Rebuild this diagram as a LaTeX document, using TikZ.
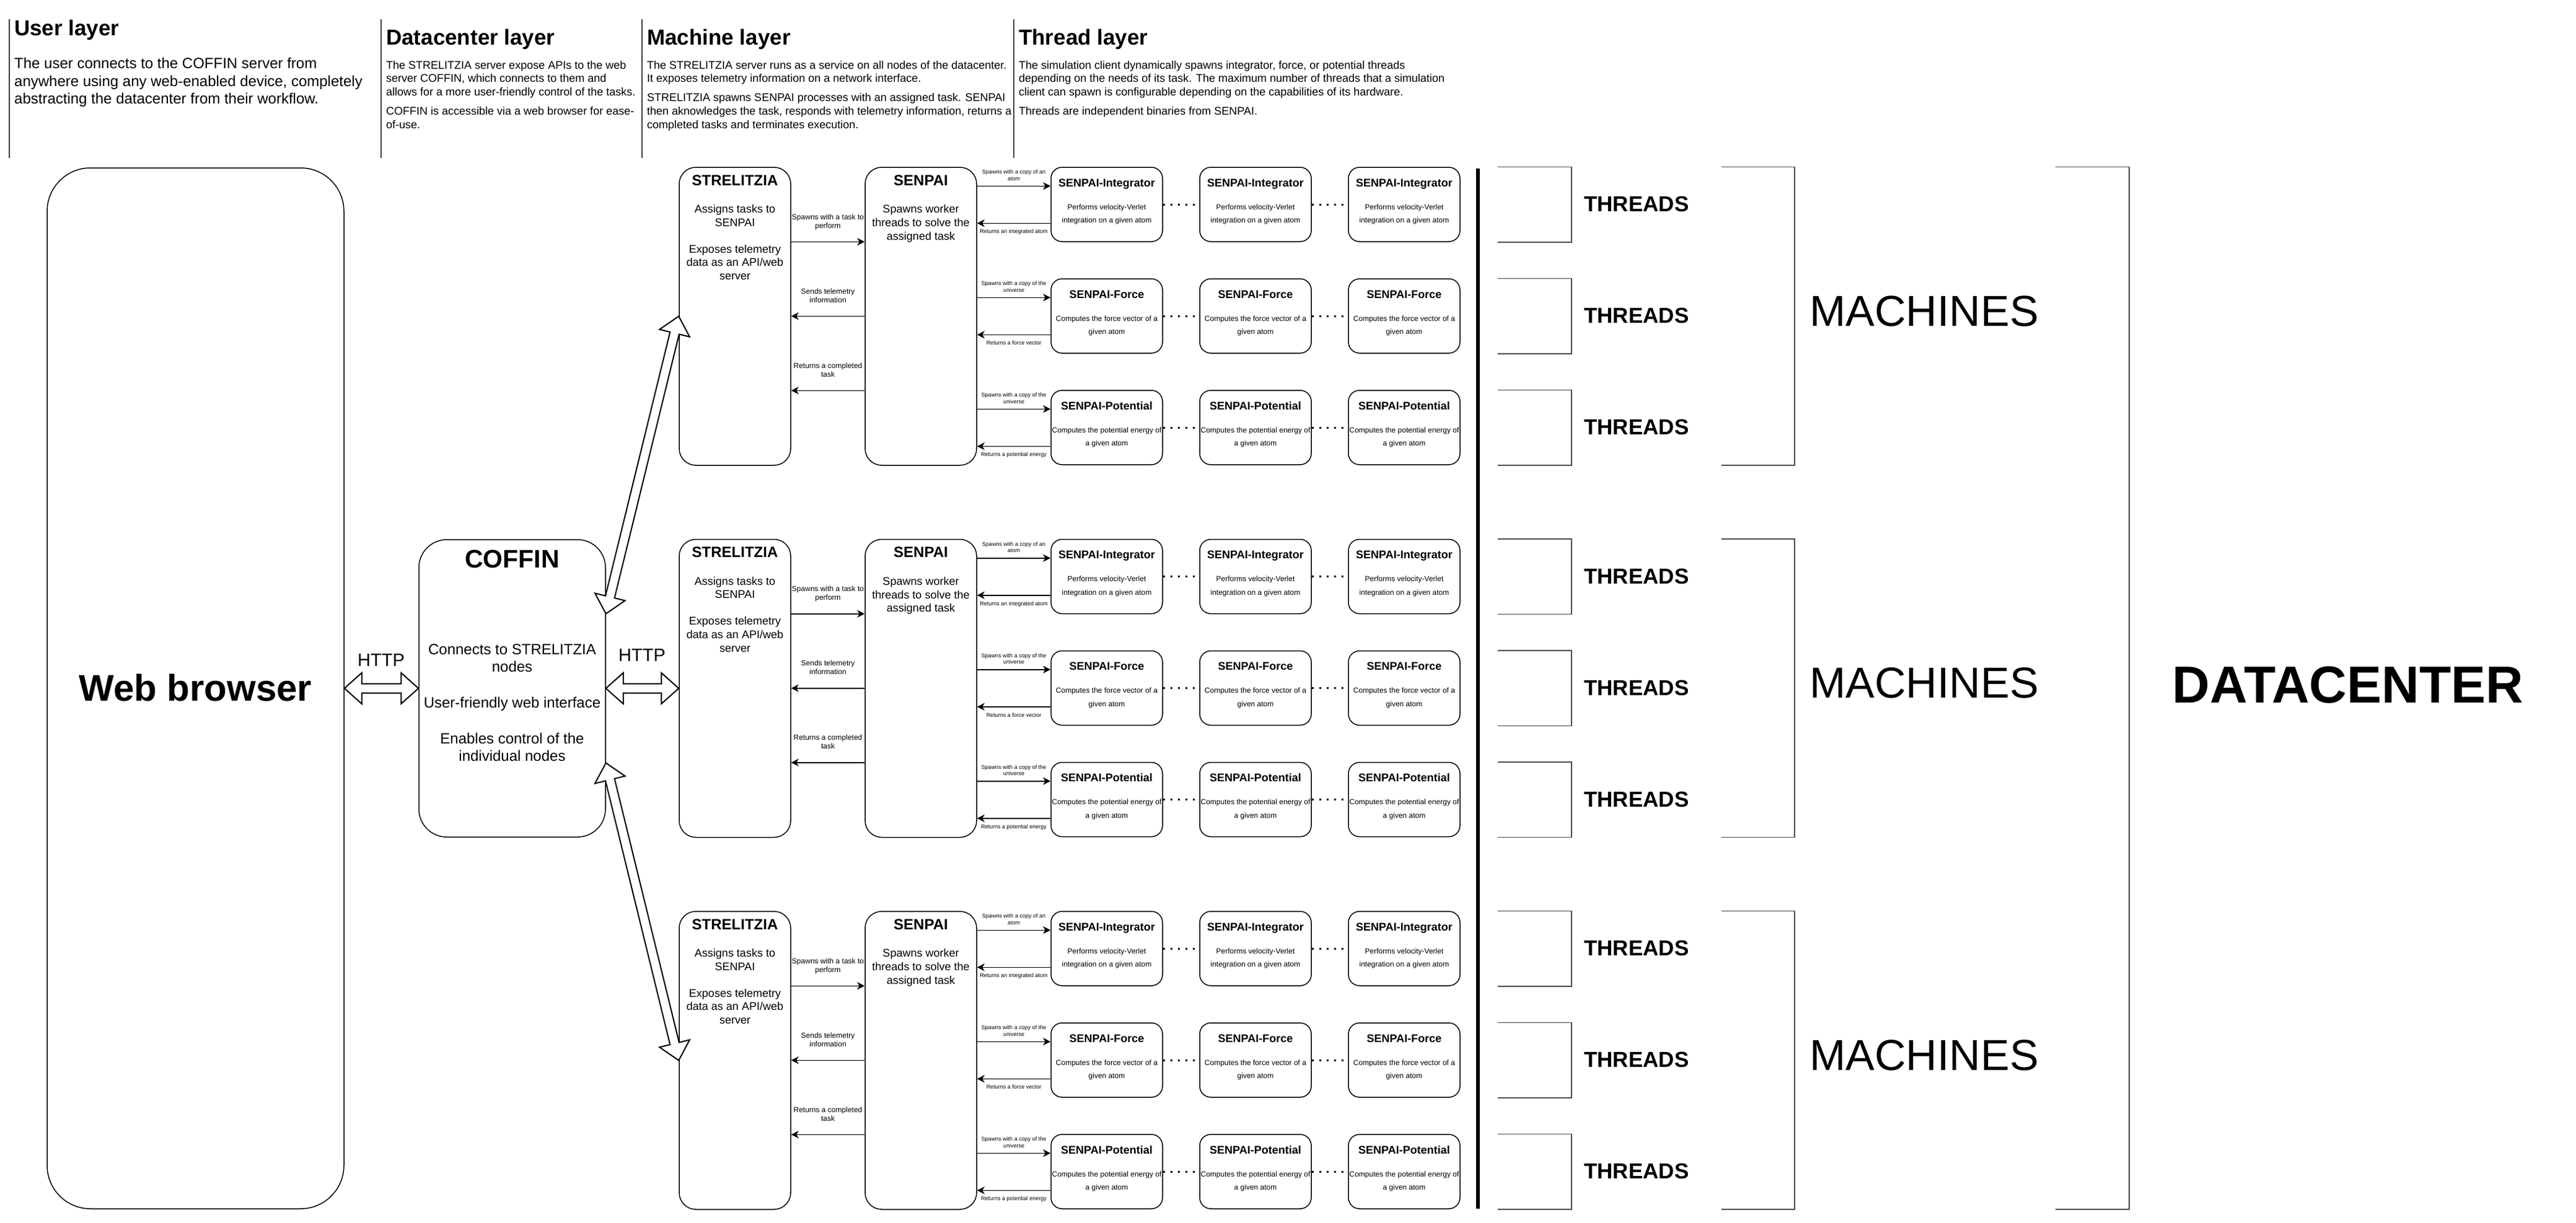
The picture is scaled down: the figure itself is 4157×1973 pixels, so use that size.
\documentclass[tikz,border=0pt]{standalone}
\usepackage{fontspec}
\setmainfont{Liberation Sans}
\usetikzlibrary{arrows.meta,calc}

% hollow double arrow between two points
\newcommand{\flexarrow}[2]{%
  \coordinate (fa-a) at ($(#1)!28pt!(#2)$);
  \coordinate (fa-b) at ($(#2)!28pt!(#1)$);
  \draw[flex] (#1) -- ($(fa-a)!25pt!90:(#2)$) -- ($(fa-a)!7.5pt!90:(#2)$)
    -- ($(fa-b)!7.5pt!-90:(#1)$) -- ($(fa-b)!25pt!-90:(#1)$) -- (#2)
    -- ($(fa-b)!25pt!90:(#1)$) -- ($(fa-b)!7.5pt!90:(#1)$)
    -- ($(fa-a)!7.5pt!-90:(#2)$) -- ($(fa-a)!25pt!-90:(#2)$) -- cycle;}

\begin{document}
\begin{tikzpicture}[x=1pt,y=-1pt]
\tikzset{block/.style = {draw, line width=1.5pt, rounded corners=#1, inner sep=0}}
\tikzset{edge/.style = {-{Stealth[length=12pt,width=12pt,inset=3.5pt]}, line width=1.5pt}}
\tikzset{flex/.style = {draw, fill=white, line width=2pt}}
\tikzset{dotline/.style = {line width=3pt, dash pattern=on 3pt off 9pt}}
\tikzset{bracket/.style = {draw=black!70, line width=1.5pt}}
\tikzset{divider/.style = {draw=black!75, line width=1.5pt}}
\tikzset{layer/.style = {anchor=base west, inner sep=0, font=\fontsize{35}{42}\selectfont\bfseries}}
\tikzset{layertext/.style = {anchor=north west, align=left, inner sep=0, font=\fontsize{18}{21.6}\selectfont, execute at begin node=\strut}}
\tikzset{boxtitle/.style = {anchor=base, inner sep=0, font=\fontsize{24}{28.8}\selectfont\bfseries}}
\tikzset{boxtext/.style = {anchor=north, align=center, inner sep=0, font=\fontsize{18}{21.6}\selectfont, execute at begin node=\strut}}
\tikzset{msg/.style = {align=center, inner sep=0, font=\fontsize{12}{14}\selectfont, execute at begin node=\strut, execute at end node=\strut}}
\tikzset{tmsg/.style = {align=center, inner sep=0, font=\fontsize{9}{10.8}\selectfont, execute at begin node=\strut, execute at end node=\strut}}
\tikzset{big/.style = {anchor=base, inner sep=0}}
\useasboundingbox (0,0) rectangle (4157,1973);

% layers
\foreach \x in {15,615,1036,1636} \draw[divider] (\x,31) -- (\x,255);
\node[layer] (user-h) at (23,57) {User layer};
\node[layertext, font=\fontsize{24}{28.8}\selectfont] (user-t) at (23,92.8) {The user connects to the COFFIN server from\\anywhere using any web-enabled device, completely\\abstracting the datacenter from their workflow.};
\node[layer] (dc-h) at (623,72) {Datacenter layer};
\node[layertext] (dc-t) at (623,97.9) {The STRELITZIA server expose APIs to the web\\server COFFIN, which connects to them and\\allows for a more user-friendly control of the tasks.\\[9.6pt]COFFIN is accessible via a web browser for ease-\\of-use.};
\node[layer] (mc-h) at (1044,72) {Machine layer};
\node[layertext] (mc-t) at (1044,97.9) {The STRELITZIA server runs as a service on all nodes of the datacenter.\\It exposes telemetry information on a network interface.\\[9.6pt]STRELITZIA spawns SENPAI processes with an assigned task. SENPAI\\then aknowledges the task, responds with telemetry information, returns a\\completed tasks and terminates execution.};
\node[layer] (th-h) at (1644,72) {Thread layer};
\node[layertext] (th-t) at (1644,97.9) {The simulation client dynamically spawns integrator, force, or potential threads\\depending on the needs of its task. The maximum number of threads that a simulation\\client can spawn is configurable depending on the capabilities of its hardware.\\[9.6pt]Threads are independent binaries from SENPAI.};

% user and coffin
\node[block=70pt, minimum width=479pt, minimum height=1680pt] (web) at (315.5,1111) {};
\node[big, font=\fontsize{60}{72}\selectfont\bfseries] (web-t) at (315.5,1131) {Web browser};
\node[block=45pt, minimum width=301pt, minimum height=480pt] (coffin) at (826.5,1111) {};
\node[boxtitle, font=\fontsize{41}{49}\selectfont\bfseries] (coffin-h) at ([yshift=-46pt]coffin.north) {COFFIN};
\node[boxtext, font=\fontsize{24}{28.8}\selectfont] (coffin-t) at ([yshift=-168.8pt]coffin.north) {Connects to STRELITZIA\\nodes\\[28.8pt]User-friendly web interface\\[28.8pt]Enables control of the\\individual nodes};

% machines
\foreach \m/\y in {1/270,2/870.5,3/1471}{
  \node[block=27pt, minimum width=180pt, minimum height=481pt] (str\m) at (1186,{\y+240.5}) {};
  \node[boxtitle] (str\m-h) at ([yshift=-30pt]str\m.north) {STRELITZIA};
  \node[boxtext] (str\m-t) at ([yshift=-61pt]str\m.north) {Assigns tasks to\\SENPAI\\[21.6pt]Exposes telemetry\\data as an API/web\\server};
  \node[block=27pt, minimum width=180pt, minimum height=481pt] (sen\m) at (1486,{\y+240.5}) {};
  \node[boxtitle] (sen\m-h) at ([yshift=-30pt]sen\m.north) {SENPAI};
  \node[boxtext] (sen\m-t) at ([yshift=-61.4pt]sen\m.north) {Spawns worker\\threads to solve the\\assigned task};
  \draw[edge] ([yshift=-121pt]str\m.north east) -- node[msg, above=17pt] (task\m) {Spawns with a task to\\perform} ([yshift=-121pt]sen\m.north west);
  \draw[edge] ([yshift=-241pt]sen\m.north west) -- node[msg, above=17pt] (tele\m) {Sends telemetry\\information} ([yshift=-241pt]str\m.north east);
  \draw[edge] ([yshift=-361pt]sen\m.north west) -- node[msg, above=17pt] (done\m) {Returns a completed\\task} ([yshift=-361pt]str\m.north east);
  \foreach \r/\tname/\tdesc/\tin/\tout in {
    1/Integrator/{Performs velocity-Verlet\\integration on a given atom}/{Spawns with a copy of an\\atom}/{Returns an integrated atom},
    2/Force/{Computes the force vector of a\\given atom}/{Spawns with a copy of the\\universe}/{Returns a force vector},
    3/Potential/{Computes the potential energy of\\a given atom}/{Spawns with a copy of the\\universe}/{Returns a potential energy}}{
    \foreach \c in {1,2,3}{
      \node[block=18pt, minimum width=180pt, minimum height=120pt] (t\m-\r-\c) at ({1786+240*(\c-1)},{\y+60+180*(\r-1)}) {};
      \node[boxtitle, font=\fontsize{18}{21.6}\selectfont\bfseries] (t\m-\r-\c-h) at ([yshift=-32pt]t\m-\r-\c.north) {SENPAI-\tname};
      \node[boxtext, font=\fontsize{12}{21.6}\selectfont] (t\m-\r-\c-t) at ([yshift=-59.9pt]t\m-\r-\c.north) {\tdesc};
    }
    \draw[dotline] (t\m-\r-1) -- (t\m-\r-2);
    \draw[dotline] (t\m-\r-2) -- (t\m-\r-3);
    \pgfmathsetlengthmacro\dyin{31+180*(\r-1)}
    \pgfmathsetlengthmacro\dyout{91+180*(\r-1)}
    \draw[edge] ([yshift=-\dyin]sen\m.north east) -- node[tmsg, above=4.8pt] (tin\m-\r) {\tin} ([yshift=-31pt]t\m-\r-1.north west);
    \draw[edge] ([yshift=-91pt]t\m-\r-1.north west) -- node[tmsg, below=8.4pt] (tout\m-\r) {\tout} ([yshift=-\dyout]sen\m.north east);
    \draw[bracket] ([xshift=60pt]t\m-\r-3.north east) -- ++(119,0) |- ([xshift=60pt]t\m-\r-3.south east);
    \node[big, font=\fontsize{35}{42}\selectfont\bfseries] (thr\m-\r) at ([xshift=284pt, yshift=-11.5pt]t\m-\r-3.east) {THREADS};
  }
  \draw[bracket] ([xshift=421pt]t\m-1-3.north east) -- ++(118,0) |- ([xshift=421pt]t\m-3-3.south east);
  \node[big, font=\fontsize{70}{84}\selectfont] (mach\m) at (3105,{\y+256}) {MACHINES};
}

% datacenter
\draw[line width=6pt] (2385,272) -- (2385,1951);
\draw[bracket] ([xshift=960pt]t1-1-3.north east) -- ++(119,0) |- ([xshift=960pt]t3-3-3.south east);
\node[big, font=\fontsize{84}{100}\selectfont\bfseries] (dc) at (3789,1134) {DATACENTER};

% http links
\coordinate (http-l) at (web.east |- coffin.west);
\coordinate (http-r) at (coffin.east -| str2.west);
\coordinate (coffin-up) at ($(coffin.north east)!0.25!(coffin.south east)$);
\coordinate (coffin-dn) at ($(coffin.north east)!0.75!(coffin.south east)$);
\flexarrow{http-l}{coffin.west}
\flexarrow{coffin.east}{http-r}
\flexarrow{coffin-up}{str1.west}
\flexarrow{coffin-dn}{str3.west}
\node[big, font=\fontsize{29}{35}\selectfont] (http-lt) at (615,1075) {HTTP};
\node[big, font=\fontsize{29}{35}\selectfont] (http-rt) at (1036,1067) {HTTP};
\end{tikzpicture}
\end{document}
